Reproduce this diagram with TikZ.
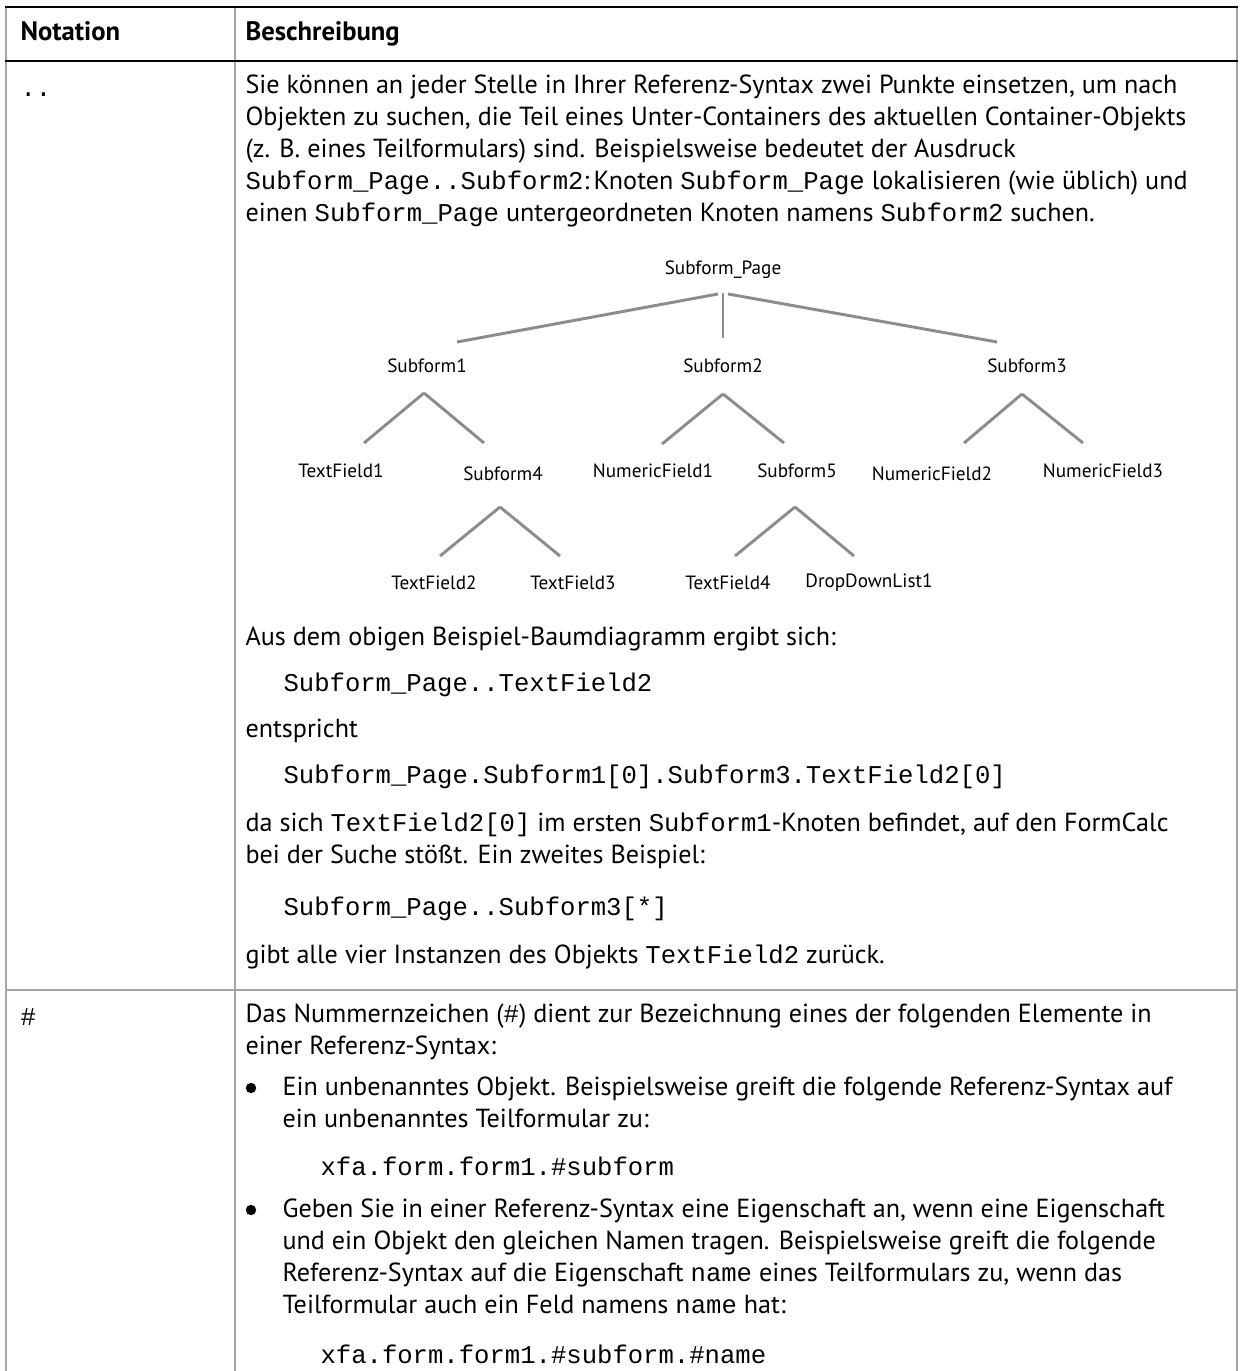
\documentclass[tikz,border=0pt]{standalone}
\usepackage{fontspec}
\setmainfont{PT Sans}
\setmonofont{Liberation Mono}[Scale=0.98]
\usetikzlibrary{calc}
\newcommand\cd[1]{\texttt{#1}}

\begin{document}
\begin{tikzpicture}[x=0.375pt, y=-0.375pt, every node/.style={inner sep=0pt, font=\fontsize{9.8}{12}\selectfont}, para/.style={anchor=north west, align=left, execute at begin node=\strut}, code/.style={para, font=\fontsize{9.8}{12}\selectfont\ttfamily}, head/.style={anchor=base west, font=\fontsize{10}{12}\selectfont\bfseries}, lbl/.style={font=\fontsize{7.2}{8}\selectfont}, dot/.style={circle, fill, minimum size=3.9pt}, branch/.style={draw=black!45, line width=1.1pt}, headrule/.style={line width=1.1pt}, gridrule/.style={draw=black!35, line width=0.6pt}]
\useasboundingbox (0,0) rectangle (1239,1371);
% table frame
\draw[gridrule] (6,7) -- (6,1371) (235,7) -- (235,1371) (1237,7) -- (1237,1371);
\draw[gridrule] (6,990) -- (1237,990);
\draw[headrule] (5,7) -- (1238,7) (5,61) -- (1238,61);
\node[head] (hnot) at (20,41) {Notation};
\node[head] (hdesc) at (245,41) {Beschreibung};
% row 1
\node[code] (dots) at (20,74) {..};
\node[para] (intro) at (245,74) {Sie können an jeder Stelle in Ihrer Referenz-Syntax zwei Punkte einsetzen, um nach\\Objekten zu suchen, die Teil eines Unter-Containers des aktuellen Container-Objekts\\(z. B. eines Teilformulars) sind. Beispielsweise bedeutet der Ausdruck\\\cd{Subform\_Page..Subform2}:\,Knoten \cd{Subform\_Page} lokalisieren (wie üblich) und\\einen \cd{Subform\_Page} untergeordneten Knoten namens \cd{Subform2} suchen.};
% tree
\node[lbl] (page) at (723,270) {Subform\_Page};
\node[lbl] (sf1) at (427,366) {Subform1};
\node[lbl] (sf2) at (723,366) {Subform2};
\node[lbl] (sf3) at (1027,366) {Subform3};
\node[lbl] (tf1) at (341,471) {TextField1};
\node[lbl] (sf4) at (503,474) {Subform4};
\node[lbl] (nf1) at (653,471) {NumericField1};
\node[lbl] (sf5) at (797,471) {Subform5};
\node[lbl] (nf2) at (932,474) {NumericField2};
\node[lbl] (nf3) at (1103,471) {NumericField3};
\node[lbl] (tf2) at (434,583) {TextField2};
\node[lbl] (tf3) at (573,583) {TextField3};
\node[lbl] (tf4) at (728,583) {TextField4};
\node[lbl] (ddl) at (869,583) {DropDownList1};
\foreach \a/\ax/\ay/\b/\bx/\by in {page/-5/24/sf1/30/-24, page/0/23/sf2/0/-28, page/5/24/sf3/-30/-24, sf1/-3/27/tf1/23/-28, sf1/-3/27/sf4/-19/-31, sf2/0/28/nf1/9/-27, sf2/0/28/sf5/-13/-28, sf3/-5/28/nf2/32/-31, sf3/-5/28/nf3/-20/-28, sf4/-3/33/tf2/6/-27, sf4/-3/33/tf3/-13/-27, sf5/-2/36/tf4/7/-27, sf5/-2/36/ddl/-15/-27} \draw[branch] ($(\a)+(\ax,\ay)$) -- ($(\b)+(\bx,\by)$);
\node[para] (result) at (245,623) {Aus dem obigen Beispiel-Baumdiagramm ergibt sich:};
\node[code] (ex1) at (283,669) {Subform\_Page..TextField2};
\node[para] (equiv) at (245,715) {entspricht};
\node[code] (ex2) at (283,761) {Subform\_Page.Subform1[0].Subform3.TextField2[0]};
\node[para] (since) at (245,812) {da sich \cd{TextField2[0]} im ersten \cd{Subform1}-Knoten befindet, auf den FormCalc\\bei der Suche stößt. Ein zweites Beispiel:};
\node[code] (ex3) at (283,893) {Subform\_Page..Subform3[*]};
\node[para] (all) at (245,941) {gibt alle vier Instanzen des Objekts \cd{TextField2} zurück.};
% row 2
\node[code] (hash) at (20,1003) {\#};
\node[para] (numsign) at (245,1003) {Das Nummernzeichen (\cd{\#}) dient zur Bezeichnung eines der folgenden Elemente in\\einer Referenz-Syntax:};
\node[dot] (dot1) at (251,1088) {};
\node[para] (item1) at (282,1076) {Ein unbenanntes Objekt. Beispielsweise greift die folgende Referenz-Syntax auf\\ein unbenanntes Teilformular zu:};
\node[code] (ex4) at (320,1153) {xfa.form.form1.\#subform};
\node[dot] (dot2) at (251,1210) {};
\node[para] (item2) at (282,1198) {Geben Sie in einer Referenz-Syntax eine Eigenschaft an, wenn eine Eigenschaft\\und ein Objekt den gleichen Namen tragen. Beispielsweise greift die folgende\\Referenz-Syntax auf die Eigenschaft \cd{name} eines Teilformulars zu, wenn das\\Teilformular auch ein Feld namens \cd{name} hat:};
\node[code] (ex5) at (320,1341) {xfa.form.form1.\#subform.\#name};
\end{tikzpicture}
\end{document}
